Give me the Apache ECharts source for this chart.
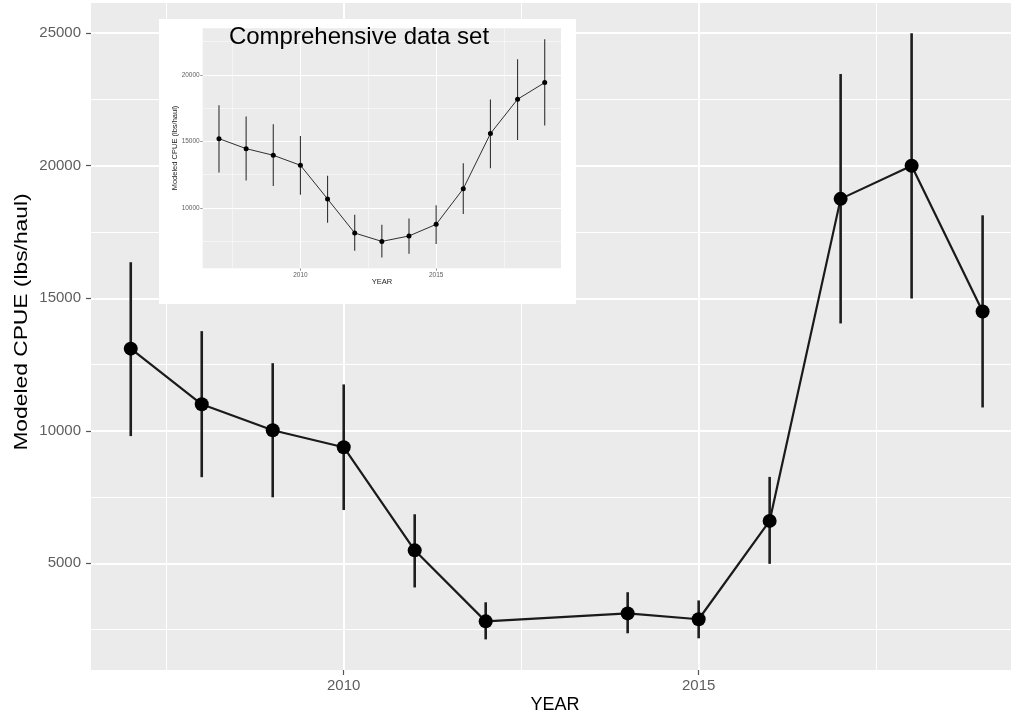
<!DOCTYPE html>
<html>
<head>
<meta charset="utf-8">
<script src="https://cdn.jsdelivr.net/npm/echarts@6/dist/echarts.min.js"></script>
<style>html,body{margin:0;padding:0;background:#fff}#c{width:1011px;height:719px}</style>
</head>
<body>
<div id="c"></div>
<script>
// ---- main chart data ----
const years = [2007, 2008, 2009, 2010, 2011, 2012, 2014, 2015, 2016, 2017, 2018, 2019];
const cpue  = [13100, 11000, 10020, 9380, 5490, 2810, 3110, 2890, 6600, 18750, 20000, 14500];
const lower = [9800, 8250, 7490, 7010, 4090, 2130, 2360, 2170, 4980, 14050, 14990, 10880];
const upper = [16360, 13760, 12550, 11750, 6850, 3530, 3910, 3600, 8260, 23460, 25000, 18130];
const xTicks = [2010, 2015];
const xMinor = [2007.5, 2012.5, 2017.5];
const yTicks = [5000, 10000, 15000, 20000, 25000];
const yMinor = [2500, 7500, 12500, 17500, 22500];

// ---- inset ("Comprehensive data set") data ----
const insetYears = [2007, 2008, 2009, 2010, 2011, 2012, 2013, 2014, 2015, 2016, 2017, 2018, 2019];
const insetCpue  = [15210, 14460, 13960, 13210, 10680, 8120, 7490, 7900, 8770, 11450, 15590, 18170, 19420];
const insetLower = [12660, 12060, 11650, 11000, 8900, 6790, 6290, 6570, 7290, 9550, 12980, 15110, 16190];
const insetUpper = [17720, 16870, 16290, 15410, 12430, 9500, 8750, 9220, 10200, 13360, 18150, 21180, 22680];
const insetYTicks = [10000, 15000, 20000];
const insetYMinor = [7500, 12500, 17500, 22500];
const insetTitle = 'Comprehensive data set';
const yTitle = 'Modeled CPUE (lbs/haul)';
const xTitle = 'YEAR';

const chart = echarts.init(document.getElementById('c'), null, {renderer: 'canvas'});

function errRender(color, width) {
  return function (params, api) {
    const x = api.value(0);
    const a = api.coord([x, api.value(1)]);
    const b = api.coord([x, api.value(2)]);
    return {type: 'line', shape: {x1: a[0], y1: a[1], x2: b[0], y2: b[1]},
            style: {stroke: color, lineWidth: width}};
  };
}

function gridAxis(type, gridIndex, min, max, ticks, major, opts) {
  return {
    type: 'value', gridIndex: gridIndex, min: min, max: max,
    position: type === 'y' ? 'left' : 'bottom',
    axisLine: {show: false},
    axisTick: {show: major, customValues: ticks, length: opts.tickLen, inside: false,
               lineStyle: {color: '#555', width: opts.tickW}},
    axisLabel: {show: major, customValues: ticks, color: '#5e5e5e',
                formatter: function (v) { return String(v); },
                fontFamily: 'Liberation Sans, Arial, sans-serif', fontSize: opts.fs, margin: opts.margin},
    splitLine: {show: true, lineStyle: {color: '#ffffff', width: major ? opts.majorW : opts.minorW}},
    z: opts.z
  };
}

const mainOpt = {tickLen: 5, tickW: 1.2, fs: 15, margin: 8, majorW: 2, minorW: 1, z: 0};
const insOpt = {tickLen: 2.5, tickW: 0.6, fs: 6.5, margin: 3, majorW: 1, minorW: 0.5, z: 6};

const option = {
  backgroundColor: '#ffffff',
  animation: false,
  grid: [
    {left: 91, top: 3, width: 920, height: 667, show: true, backgroundColor: '#ebebeb', borderWidth: 0, z: 0},
    {left: 202.7, top: 28.3, width: 358.3, height: 240, show: true, backgroundColor: '#ebebeb', borderWidth: 0, z: 5}
  ],
  xAxis: [
    gridAxis('x', 0, 2006.44, 2019.4, xTicks, true, mainOpt),
    gridAxis('x', 0, 2006.44, 2019.4, xMinor, false, mainOpt),
    gridAxis('x', 1, 2006.4, 2019.6, xTicks, true, insOpt),
    gridAxis('x', 1, 2006.4, 2019.6, xMinor, false, insOpt)
  ],
  yAxis: [
    gridAxis('y', 0, 975, 26140, yTicks, true, Object.assign({}, mainOpt, {margin: 10})),
    gridAxis('y', 0, 975, 26140, yMinor, false, mainOpt),
    gridAxis('y', 1, 5470, 23500, insetYTicks, true, insOpt),
    gridAxis('y', 1, 5470, 23500, insetYMinor, false, insOpt)
  ],
  graphic: [
    {type: 'rect', shape: {x: 159, y: 19, width: 417, height: 285}, style: {fill: '#ffffff'}, z: 4, silent: true},
    {type: 'text', x: 359, y: 37, z: 20,
     style: {text: insetTitle, fill: '#000', fontSize: 24, fontFamily: 'Liberation Sans, Arial, sans-serif',
             textAlign: 'center', textVerticalAlign: 'middle'}},
    {type: 'text', x: 22, y: 322, rotation: Math.PI / 2, scaleX: 1.2, z: 20,
     style: {text: yTitle, fill: '#000', fontSize: 19, fontFamily: 'Liberation Sans, Arial, sans-serif',
             textAlign: 'center', textVerticalAlign: 'middle'}},
    {type: 'text', x: 555, y: 705, z: 20,
     style: {text: xTitle, fill: '#000', fontSize: 18, fontFamily: 'Liberation Sans, Arial, sans-serif',
             textAlign: 'center', textVerticalAlign: 'middle'}},
    {type: 'text', x: 175, y: 148, rotation: Math.PI / 2, z: 20,
     style: {text: yTitle, fill: '#222', fontSize: 7.5, fontFamily: 'Liberation Sans, Arial, sans-serif',
             textAlign: 'center', textVerticalAlign: 'middle'}},
    {type: 'text', x: 382, y: 282, z: 20,
     style: {text: xTitle, fill: '#222', fontSize: 7.5, fontFamily: 'Liberation Sans, Arial, sans-serif',
             textAlign: 'center', textVerticalAlign: 'middle'}}
  ],
  series: [
    {type: 'custom', xAxisIndex: 0, yAxisIndex: 0, z: 2, silent: true,
     renderItem: errRender('#1e1e1e', 2.6),
     encode: {x: 0, y: [1, 2]},
     data: years.map((y, i) => [y, lower[i], upper[i]])},
    {type: 'line', xAxisIndex: 0, yAxisIndex: 0, z: 3, silent: true,
     data: years.map((y, i) => [y, cpue[i]]),
     symbol: 'circle', symbolSize: 14, showSymbol: true,
     itemStyle: {color: '#000'}, lineStyle: {color: '#1a1a1a', width: 2.2}},
    {type: 'custom', xAxisIndex: 2, yAxisIndex: 2, z: 8, silent: true,
     renderItem: errRender('#333', 1.1),
     encode: {x: 0, y: [1, 2]},
     data: insetYears.map((y, i) => [y, insetLower[i], insetUpper[i]])},
    {type: 'line', xAxisIndex: 2, yAxisIndex: 2, z: 9, silent: true,
     data: insetYears.map((y, i) => [y, insetCpue[i]]),
     symbol: 'circle', symbolSize: 5, showSymbol: true,
     itemStyle: {color: '#000'}, lineStyle: {color: '#1a1a1a', width: 0.9}}
  ]
};
chart.setOption(option);
</script>
</body>
</html>
